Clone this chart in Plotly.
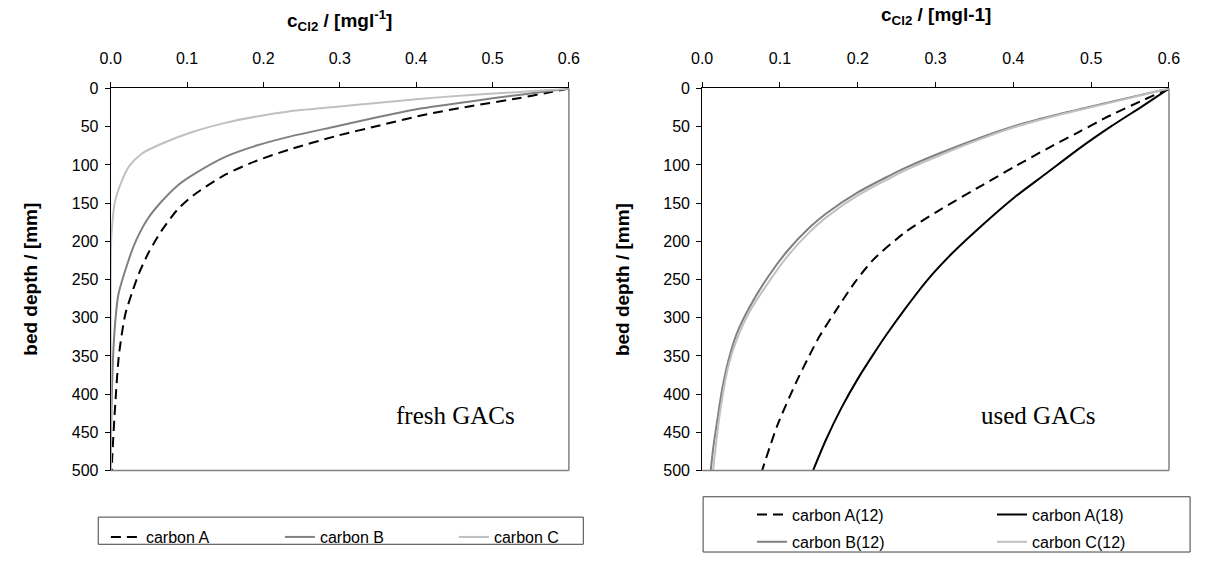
import plotly.graph_objects as go

# ---- fresh GACs: chlorine concentration (mg/l) vs bed depth (mm)
fresh_A_c = [0.600, 0.572, 0.534, 0.471, 0.408, 0.352, 0.296, 0.233, 0.191, 0.150, 0.108, 0.087,
             0.066, 0.049, 0.037, 0.028, 0.019, 0.011, 0.0063, 0.0021, 0.0015]
fresh_A_d = [0, 5.5, 12.7, 23.2, 35, 48.4, 62, 80.2, 94.6, 112.8, 140, 159,
             187, 216, 242, 267, 296, 347, 408, 481, 500]

fresh_B_c = [0.600, 0.534, 0.471, 0.408, 0.352, 0.296, 0.233, 0.191, 0.150, 0.108, 0.087, 0.066,
             0.049, 0.033, 0.022, 0.010, 0.006, 0.0035, 0.0015, 0.0005, 0.0]
fresh_B_d = [0, 8.4, 16.9, 25.8, 37, 49.4, 63.3, 74.7, 89.5, 112.8, 127.5, 148.6,
             169.8, 199.3, 229, 270, 305, 343, 400, 450, 500]

fresh_C_c = [0.600, 0.555, 0.471, 0.400, 0.3585, 0.296, 0.233, 0.191, 0.150, 0.104, 0.066, 0.041,
             0.024, 0.0138, 0.0054, 0.0013, 0.0003, 0.0, 0.0]
fresh_C_d = [0, 3.4, 8.4, 14, 18, 24, 30, 36.7, 45, 57.9, 72.6, 85,
             102, 123, 149, 187, 210, 250, 500]

# ---- used GACs
used_A12_c = [0.600, 0.566, 0.525, 0.484, 0.443, 0.402, 0.361, 0.302, 0.261, 0.220, 0.196,
              0.171, 0.151, 0.140, 0.122, 0.097, 0.077]
used_A12_d = [0, 15.6, 35, 57, 79, 102, 126, 161, 188, 224, 254,
              292, 324, 345, 382, 440, 500]

used_A18_c = [0.600, 0.566, 0.525, 0.484, 0.443, 0.402, 0.361, 0.321, 0.290, 0.261, 0.237, 0.220,
              0.200, 0.179, 0.159, 0.1425]
used_A18_d = [0, 23, 50, 79, 110.6, 142, 178, 216, 250, 288, 322, 348,
              380, 418, 460, 500]

used_B12_c = [0.600, 0.525, 0.463, 0.402, 0.361, 0.302, 0.261, 0.241, 0.200, 0.159, 0.138,
              0.110, 0.085, 0.061, 0.044, 0.034, 0.026, 0.0205, 0.0143, 0.011]
used_B12_d = [0, 17.7, 32.5, 49, 63, 86, 104, 114, 136, 164, 182,
              212, 246, 286, 322, 355, 392, 427, 470, 500]

used_C12_c = [0.600, 0.525, 0.463, 0.402, 0.361, 0.302, 0.261, 0.241, 0.200, 0.159, 0.138, 0.110,
              0.085, 0.061, 0.044, 0.034, 0.0225, 0.014]
used_C12_d = [0, 18.5, 33.5, 50.5, 65, 89, 107, 117.5, 140, 169, 188, 219,
              254, 292, 330, 362, 427, 500]

x_ticks = [0.0, 0.1, 0.2, 0.3, 0.4, 0.5, 0.6]
y_ticks = [0, 50, 100, 150, 200, 250, 300, 350, 400, 450, 500]

BLACK = "#000000"
MID = "#808080"
LIGHT = "#c0c0c0"
FRAME = "#404040"
DASH = "10px,6px"
FONT = "Liberation Sans, Arial, sans-serif"

W, H = 1232, 562


def px_x(p):
    return p / W


def px_y(p):
    return 1 - p / H


def line(color, dash=None):
    d = dict(color=color, width=2, shape="spline", smoothing=0.7)
    if dash:
        d["dash"] = dash
    return d


fig = go.Figure()

# left panel
fig.add_trace(go.Scatter(x=fresh_A_c, y=fresh_A_d, mode="lines", name="carbon A",
                         line=line(BLACK, DASH), xaxis="x", yaxis="y", legend="legend"))
fig.add_trace(go.Scatter(x=fresh_B_c, y=fresh_B_d, mode="lines", name="carbon B",
                         line=line(MID), xaxis="x", yaxis="y", legend="legend"))
fig.add_trace(go.Scatter(x=fresh_C_c, y=fresh_C_d, mode="lines", name="carbon C",
                         line=line(LIGHT), xaxis="x", yaxis="y", legend="legend"))

# right panel (two legend rows)
fig.add_trace(go.Scatter(x=used_A12_c, y=used_A12_d, mode="lines", name="carbon A(12)",
                         line=line(BLACK, DASH), xaxis="x2", yaxis="y2", legend="legend2"))
fig.add_trace(go.Scatter(x=used_A18_c, y=used_A18_d, mode="lines", name="carbon A(18)",
                         line=line(BLACK), xaxis="x2", yaxis="y2", legend="legend2"))
fig.add_trace(go.Scatter(x=used_B12_c, y=used_B12_d, mode="lines", name="carbon B(12)",
                         line=line(MID), xaxis="x2", yaxis="y2", legend="legend3"))
fig.add_trace(go.Scatter(x=used_C12_c, y=used_C12_d, mode="lines", name="carbon C(12)",
                         line=line(LIGHT), xaxis="x2", yaxis="y2", legend="legend3"))

# plot-area boxes in pixels: (left, top, right, bottom)
L_BOX = (104, 83, 582, 477)
R_BOX = (721, 83, 1208, 477)
TICK_FONT = dict(family=FONT, size=16, color=BLACK)


def xaxis_cfg(box, anchor):
    return dict(domain=[px_x(box[0]), px_x(box[2])], range=[0, 0.6], side="top",
                tickvals=x_ticks, ticktext=[f"{v:.1f}" for v in x_ticks],
                ticks="outside", ticklen=5, tickcolor=BLACK, showline=True, linecolor=BLACK,
                linewidth=1, showgrid=False, zeroline=False, anchor=anchor,
                tickfont=TICK_FONT, ticklabelstandoff=12, fixedrange=True)


def yaxis_cfg(box, anchor):
    return dict(domain=[px_y(box[3]), px_y(box[1])], range=[500, 0],
                tickvals=y_ticks, ticks="outside", ticklen=5, tickcolor=BLACK,
                showline=True, linecolor=BLACK, linewidth=1, showgrid=False, zeroline=False,
                anchor=anchor, tickfont=TICK_FONT, ticklabelstandoff=3, fixedrange=True)


legend_common = dict(orientation="h", bgcolor="rgba(0,0,0,0)", borderwidth=0,
                     font=dict(family=FONT, size=16, color=BLACK), xanchor="left",
                     yanchor="top", entrywidthmode="pixels", tracegroupgap=0)

fig.update_layout(
    width=W, height=H, margin=dict(l=0, r=0, t=0, b=0),
    paper_bgcolor="white", plot_bgcolor="white",
    xaxis=xaxis_cfg(L_BOX, "y"), yaxis=yaxis_cfg(L_BOX, "x"),
    xaxis2=xaxis_cfg(R_BOX, "y2"), yaxis2=yaxis_cfg(R_BOX, "x2"),
    legend=dict(**legend_common, x=px_x(99), y=px_y(528), entrywidth=129),
    legend2=dict(**legend_common, x=px_x(773), y=px_y(505), entrywidth=195),
    legend3=dict(**legend_common, x=px_x(773), y=px_y(533), entrywidth=195),
    showlegend=True,
)

# grey right/bottom plot-area borders
for xr, yr in [("x", "y"), ("x2", "y2")]:
    fig.add_shape(type="line", xref=xr + " domain", yref=yr + " domain", x0=1, x1=1, y0=0, y1=1,
                  line=dict(color=MID, width=1.5), layer="above")
    fig.add_shape(type="line", xref=xr + " domain", yref=yr + " domain", x0=0, x1=1, y0=0, y1=0,
                  line=dict(color=MID, width=1.5), layer="above")

# legend frames
for x0, y0, x1, y1 in [(91, 525, 597, 553), (722, 504, 1230, 561)]:
    fig.add_shape(type="rect", xref="paper", yref="paper", x0=px_x(x0), x1=px_x(x1),
                  y0=px_y(y1), y1=px_y(y0), line=dict(color=FRAME, width=1),
                  fillcolor="rgba(0,0,0,0)", layer="below")

# concentration axis titles
for text, xp, yp in [("<b>c<sub>Cl2</sub> / [mgl<sup>-1</sup>]</b>", 343, 13),
                     ("<b>c<sub>Cl2</sub> / [mgl-1]</b>", 965, 8)]:
    fig.add_annotation(text=text, x=px_x(xp), y=px_y(yp), xref="paper", yref="paper",
                       showarrow=False, xanchor="center", yanchor="middle",
                       font=dict(family=FONT, size=19, color=BLACK))

# depth axis titles
for xp in [20, 638]:
    fig.add_annotation(text="<b>bed depth / [mm]</b>", x=px_x(xp), y=px_y(280), xref="paper",
                       yref="paper", showarrow=False, textangle=-90, xanchor="center",
                       yanchor="middle", font=dict(family=FONT, size=19, color=BLACK))

for label, xp in [("fresh GACs", 464), ("used GACs", 1072)]:
    fig.add_annotation(text=label, x=px_x(xp), y=px_y(420), xref="paper", yref="paper",
                       showarrow=False, xanchor="center", yanchor="middle",
                       font=dict(family="Liberation Serif, Times New Roman, serif", size=25,
                                 color=BLACK))

fig.write_html("out.html", config={"displayModeBar": False})
